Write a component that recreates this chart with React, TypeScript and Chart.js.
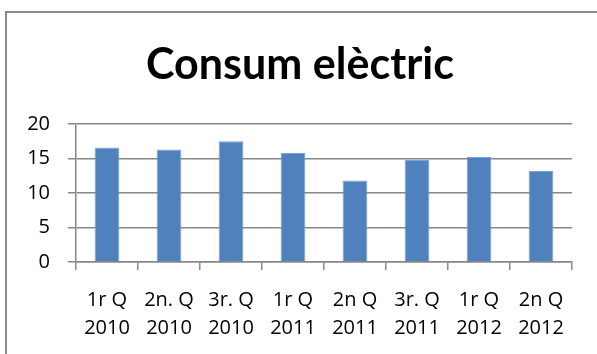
import React, { useEffect, useRef } from "react";
import { Chart, registerables } from "chart.js";

Chart.register(...registerables);

const titleText = "Consum elèctric";
const quarterLabels = ["1r Q", "2n. Q", "3r. Q", "1r Q", "2n Q", "3r. Q", "1r Q", "2n Q"];
const yearLabels = ["2010", "2010", "2010", "2011", "2011", "2011", "2012", "2012"];
const consumValues = [16.6, 16.3, 17.5, 15.8, 11.8, 14.8, 15.2, 13.2];
const yMin = 0;
const yMax = 20;
const yStep = 5;

const TITLE_FONT = "Lato, 'Open Sans', sans-serif";
const TICK_FONT = "'Open Sans', 'Noto Sans', sans-serif";
const GRID = "#878787";

function measure(text: string, size: number, weight: string, family: string) {
  const c = document.createElement("canvas").getContext("2d")!;
  c.font = `${weight} ${size}px ${family}`;
  return c.measureText(text).width;
}

export default function App() {
  const canvasRef = useRef<HTMLCanvasElement | null>(null);

  useEffect(() => {
    const canvas = canvasRef.current;
    if (!canvas) return;
    const labels = quarterLabels.map((q, i) => [q, yearLabels[i]]);
    const tickSize = 20;
    const titleSize = (100 * 308) / measure(titleText, 100, "bold", TITLE_FONT);

    const titleDraw = {
      id: "titleDraw",
      afterDraw(ch: any) {
        const ctx = ch.ctx;
        ctx.save();
        ctx.font = `bold ${titleSize}px ${TITLE_FONT}`;
        ctx.fillStyle = "#000";
        ctx.textAlign = "center";
        ctx.textBaseline = "alphabetic";
        ctx.fillText(titleText, 300, 79);
        ctx.restore();
      },
    };

    const chart = new Chart(canvas, {
      type: "bar",
      data: {
        labels,
        datasets: [
          {
            data: consumValues,
            backgroundColor: "#4F81BD",
            borderColor: "#7FA3D1",
            borderWidth: 1,
            barPercentage: 0.4,
            categoryPercentage: 1,
          },
        ],
      },
      options: {
        animation: false,
        responsive: false,
        maintainAspectRatio: false,
        layout: { padding: { left: 0, right: 25, top: 0, bottom: 0 } },
        plugins: {
          legend: { display: false },
          tooltip: { enabled: false },
          title: {
            display: true,
            text: titleText,
            color: "rgba(0,0,0,0)",
            font: { family: TITLE_FONT, size: 42, weight: "bold", lineHeight: 1.2 },
            padding: { top: 37, bottom: 36.6 },
          },
        },
        scales: {
          x: {
            grid: {
              display: true,
              drawOnChartArea: false,
              drawTicks: true,
              tickLength: 8,
              color: GRID,
              lineWidth: 1.5,
              offset: true,
            },
            border: { display: true, color: GRID, width: 1.5 },
            ticks: {
              color: "#000",
              font: { family: TICK_FONT, size: tickSize, lineHeight: 28 / tickSize },
              padding: 16,
              maxRotation: 0,
              minRotation: 0,
              autoSkip: false,
            },
            afterFit: (s: any) => {
              s.height = 92;
            },
          },
          y: {
            min: yMin,
            max: yMax,
            ticks: {
              stepSize: yStep,
              color: "#000",
              font: { family: TICK_FONT, size: tickSize },
              padding: 18,
            },
            grid: { color: GRID, lineWidth: 1.5, tickLength: 8 },
            border: { display: true, color: GRID, width: 1.5 },
            afterFit: (s: any) => {
              s.width = 76;
            },
          },
        },
      },
      plugins: [titleDraw],
    });
    return () => chart.destroy();
  }, []);

  return (
    <div style={{ position: "absolute", left: 0, top: 0, width: 597, height: 354, background: "#fff", overflow: "hidden" }}>
      <div
        style={{
          position: "absolute",
          left: 5,
          top: 11,
          width: 592,
          height: 343,
          borderLeft: "2px solid #8a8a8a",
          borderTop: "2px solid #8a8a8a",
          boxSizing: "border-box",
        }}
      />
      <canvas ref={canvasRef} width={597} height={354} style={{ position: "absolute", left: 0, top: 0, width: 597, height: 354 }} />
    </div>
  );
}
